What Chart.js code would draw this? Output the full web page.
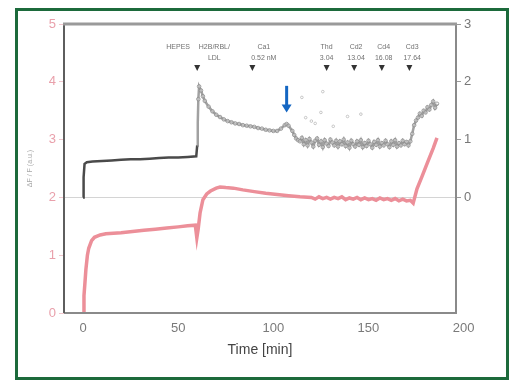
<!DOCTYPE html>
<html>
<head>
<meta charset="utf-8">
<script src="https://cdn.jsdelivr.net/npm/chart.js@4.4.0/dist/chart.umd.min.js"></script>
<style>
  body { margin: 0; background: #fff; }
  #wrap { position: relative; width: 513px; height: 381px; }
  #frame {
    position: absolute; left: 15px; top: 8px; width: 494px; height: 372px;
    box-sizing: border-box; border: 3px solid #1c6a3b; pointer-events: none;
  }
  canvas { position: absolute; left: 0; top: 0; }
</style>
</head>
<body>
<div id="wrap">
  <canvas id="chart" width="513" height="381"></canvas>
  <div id="frame"></div>
</div>
<script>
// tick values
const xTicks = [0, 50, 100, 150, 200];
const leftTicks = [0, 1, 2, 3, 4, 5];
const rightTicks = [0, 1, 2, 3];

// grey trace (right axis)
const grayTime = [0, 0.3, 0.8, 2, 5, 10, 15, 20, 25, 30, 35, 40, 45, 50, 55, 59.5,
  60, 60.3, 60.6, 61, 62, 63, 64, 66, 68, 70, 72, 74, 76, 78, 80, 82, 84, 86, 88, 90,
  92, 94, 96, 98, 100, 102, 104, 106, 107, 108, 110, 111, 112, 113,
  114, 115, 116, 117, 118, 119, 120, 121, 122, 123, 124, 125, 126, 127, 128, 129, 130,
  131, 132, 133, 134, 135, 136, 137, 138, 139, 140, 141, 142, 143, 144, 145, 146, 147,
  148, 149, 150, 151, 152, 153, 154, 155, 156, 157, 158, 159, 160, 161, 162, 163, 164,
  165, 166, 167, 168, 169, 170, 171, 172,
  173, 174, 175, 176, 177, 178, 179, 180, 181, 182, 183, 184, 185, 186];
const grayVal = [0.0, 0.35, 0.58, 0.61, 0.62, 0.63, 0.64, 0.65, 0.66, 0.66, 0.67, 0.68, 0.69, 0.69, 0.70, 0.71,
  0.9, 1.3, 1.7, 1.92, 1.85, 1.75, 1.67, 1.57, 1.49, 1.43, 1.39, 1.35, 1.32, 1.30, 1.28, 1.27, 1.25, 1.24, 1.23, 1.22,
  1.20, 1.19, 1.17, 1.16, 1.15, 1.15, 1.19, 1.25, 1.27, 1.24, 1.15, 1.08, 1.02, 0.99,
  0.97, 1.03, 0.92, 0.99, 0.90, 1.01, 0.95, 0.88, 0.98, 1.02, 0.91, 0.97, 0.87, 0.99, 0.93, 0.89, 1.00,
  0.95, 0.90, 0.98, 0.88, 0.97, 0.92, 1.00, 0.89, 0.95, 0.86, 0.98, 0.92, 0.88, 0.97, 0.91, 0.99, 0.87,
  0.94, 0.89, 0.98, 0.92, 0.86, 0.96, 0.91, 0.99, 0.88, 0.94, 0.90, 0.98, 0.92, 0.87, 0.97, 0.91, 0.99,
  0.88, 0.94, 0.90, 0.98, 0.92, 0.96, 0.90, 0.97,
  1.10, 1.25, 1.33, 1.38, 1.45, 1.41, 1.50, 1.47, 1.56, 1.52, 1.60, 1.66, 1.55, 1.62];

// stray grey points (right axis)
const strayTime = [115, 117, 120, 122, 125, 126, 131.5, 139, 146];
const strayVal = [1.73, 1.38, 1.32, 1.28, 1.47, 1.83, 1.23, 1.40, 1.44];

// red trace (left axis)
const redTime = [0, 0.5, 1, 1.5, 2.3, 3, 4.5, 6, 9, 12, 16, 20, 26, 32, 38, 44, 50, 55, 59,
  59.8, 60.5, 61.5, 63, 65, 67, 70, 72, 75, 79, 84, 90, 96, 102, 108, 114,
  120, 122, 124, 126, 128, 130, 132, 134, 136, 138, 140, 142, 144, 146, 148, 150, 152,
  154, 156, 158, 160, 162, 164, 166, 168, 170, 172, 173.5, 175.5, 178, 181, 184, 186];
const redVal = [0.0, 0.3, 0.52, 0.75, 1.0, 1.12, 1.25, 1.31, 1.35, 1.37, 1.38, 1.39, 1.41, 1.43, 1.45, 1.47, 1.49, 1.51, 1.52,
  1.3, 1.45, 1.73, 1.96, 2.06, 2.11, 2.16, 2.18, 2.17, 2.16, 2.13, 2.10, 2.07, 2.05, 2.03, 2.01,
  2.00, 1.97, 2.01, 1.98, 2.00, 1.97, 2.00, 1.98, 2.01, 1.96, 1.99, 1.97, 2.00, 1.96, 1.99, 1.96, 1.98,
  1.95, 1.99, 1.96, 1.98, 1.95, 1.98, 1.94, 1.97, 1.94, 1.95, 1.90, 2.15, 2.35, 2.60, 2.85, 3.03];

// event markers along the top
const eventTimes = [60, 89, 128, 142.5, 157, 171.5];
const labelTimes = [50, 69, 95, 128, 143.5, 158, 173];
const labelLines = [["HEPES"], ["H2B/RBL/", "LDL"], ["Ca1", "0.52 nM"], ["Thd", "3.04"],
  ["Cd2", "13.04"], ["Cd4", "16.08"], ["Cd3", "17.64"]];

// blue arrow (right axis units)
const arrowTime = 107;
const arrowFrom = 1.93;
const arrowTo = 1.47;

const pts = (xs, ys) => xs.map((x, i) => ({ x: x, y: ys[i] }));

const framePlugin = {
  id: 'frame',
  afterDraw(chart) {
    const { ctx, chartArea: a, scales } = chart;
    ctx.save();
    ctx.strokeStyle = '#8a8a8a';
    ctx.lineWidth = 2;
    ctx.beginPath();
    ctx.moveTo(a.right, a.top); ctx.lineTo(a.right, a.bottom); ctx.lineTo(a.left, a.bottom);
    ctx.stroke();
    ctx.strokeStyle = '#5e5e5e';
    ctx.beginPath();
    ctx.moveTo(a.left, a.bottom); ctx.lineTo(a.left, a.top);
    ctx.stroke();
    ctx.strokeStyle = '#9a9a9a';
    ctx.lineWidth = 3;
    ctx.beginPath();
    ctx.moveTo(a.left - 1, a.top); ctx.lineTo(a.right + 1, a.top);
    ctx.stroke();

    // event triangles + labels
    const x = scales.x;
    ctx.fillStyle = '#333';
    eventTimes.forEach(t => {
      const px = x.getPixelForValue(t);
      const py = a.top + 44;
      ctx.beginPath();
      ctx.moveTo(px - 3, py - 3); ctx.lineTo(px + 3, py - 3); ctx.lineTo(px, py + 3);
      ctx.closePath();
      ctx.fill();
    });
    ctx.fillStyle = '#707070';
    ctx.font = '7px "Liberation Sans", Arial, sans-serif';
    ctx.textAlign = 'center';
    ctx.textBaseline = 'middle';
    labelTimes.forEach((t, i) => {
      const px = x.getPixelForValue(t);
      labelLines[i].forEach((s, j) => ctx.fillText(s, px, a.top + 23 + j * 11));
    });

    // blue arrow
    const yR = scales.yR;
    const ax = x.getPixelForValue(arrowTime);
    const y0 = yR.getPixelForValue(arrowFrom);
    const y1 = yR.getPixelForValue(arrowTo);
    ctx.strokeStyle = '#1466c2';
    ctx.fillStyle = '#1466c2';
    ctx.lineWidth = 3;
    ctx.beginPath();
    ctx.moveTo(ax, y0); ctx.lineTo(ax, y1 - 6);
    ctx.stroke();
    ctx.beginPath();
    ctx.moveTo(ax - 5, y1 - 8); ctx.lineTo(ax + 5, y1 - 8); ctx.lineTo(ax, y1);
    ctx.closePath();
    ctx.fill();
    ctx.restore();
  }
};

const tickFont = { family: '"Liberation Sans", Arial, sans-serif', size: 13 };

new Chart(document.getElementById('chart'), {
  type: 'scatter',
  data: {
    datasets: [
      {
        data: pts(strayTime, strayVal),
        yAxisID: 'yR',
        pointRadius: 1.3,
        pointBackgroundColor: 'transparent',
        pointBorderColor: '#c4c4c4',
        pointBorderWidth: 1
      },
      {
        data: pts(redTime, redVal),
        yAxisID: 'yL',
        showLine: true,
        borderColor: '#ec8f99',
        borderWidth: 3.5,
        pointRadius: 0
      },
      {
        data: pts(grayTime, grayVal),
        yAxisID: 'yR',
        showLine: true,
        borderColor: '#8a8a8a',
        segment: {
          borderColor: c => c.p0.parsed.x < 60 ? '#4a4a4a' : 'rgba(130,130,130,0.75)',
          borderWidth: c => c.p0.parsed.x < 60 ? 2.5 : 2.5
        },
        pointRadius: c => c.parsed && c.parsed.x > 60.5 ? 1.8 : 0,
        pointBackgroundColor: 'rgba(255,255,255,0.3)',
        pointBorderColor: 'rgba(140,140,140,0.8)',
        pointBorderWidth: 1
      }
    ]
  },
  options: {
    responsive: false,
    animation: false,
    devicePixelRatio: 1,
    layout: { padding: { left: 20, top: 24, right: 0, bottom: 18 } },
    plugins: { legend: { display: false }, tooltip: { enabled: false } },
    scales: {
      x: {
        type: 'linear',
        min: -10,
        max: 196,
        afterBuildTicks: s => { s.ticks = xTicks.map(v => ({ value: v })); },
        afterFit: s => { s.height = 50; },
        grid: { display: false, drawTicks: false },
        border: { display: false },
        ticks: { color: '#7a7a7a', font: tickFont, padding: 8, autoSkip: false, maxRotation: 0 },
        title: {
          display: true, text: 'Time [min]', color: '#444',
          font: { family: '"Liberation Sans", Arial, sans-serif', size: 14 },
          padding: { top: 2, bottom: 4 }
        }
      },
      yL: {
        type: 'linear',
        position: 'left',
        min: 0,
        max: 5,
        afterBuildTicks: s => { s.ticks = leftTicks.map(v => ({ value: v })); },
        afterFit: s => { s.width = 44; },
        grid: { drawOnChartArea: false, tickLength: 5, tickColor: '#f1c6cd' },
        border: { display: false },
        ticks: { color: '#e9a0ab', font: tickFont, padding: 3 },
        title: {
          display: true, text: 'ΔF / F (a.u.)', color: '#a8a8a8',
          font: { family: '"Liberation Sans", Arial, sans-serif', size: 7 },
          padding: { top: 6, bottom: 0 }
        }
      },
      yR: {
        type: 'linear',
        position: 'right',
        min: -2,
        max: 3,
        afterBuildTicks: s => { s.ticks = rightTicks.map(v => ({ value: v })); },
        afterFit: s => { s.width = 57; },
        grid: {
          color: c => c.tick && c.tick.value === 0 ? '#d4d4d4' : 'transparent',
          tickColor: '#9a9a9a',
          tickLength: 5
        },
        border: { display: false },
        ticks: { color: '#777', font: tickFont, padding: 3 }
      }
    }
  },
  plugins: [framePlugin]
});
</script>
</body>
</html>
